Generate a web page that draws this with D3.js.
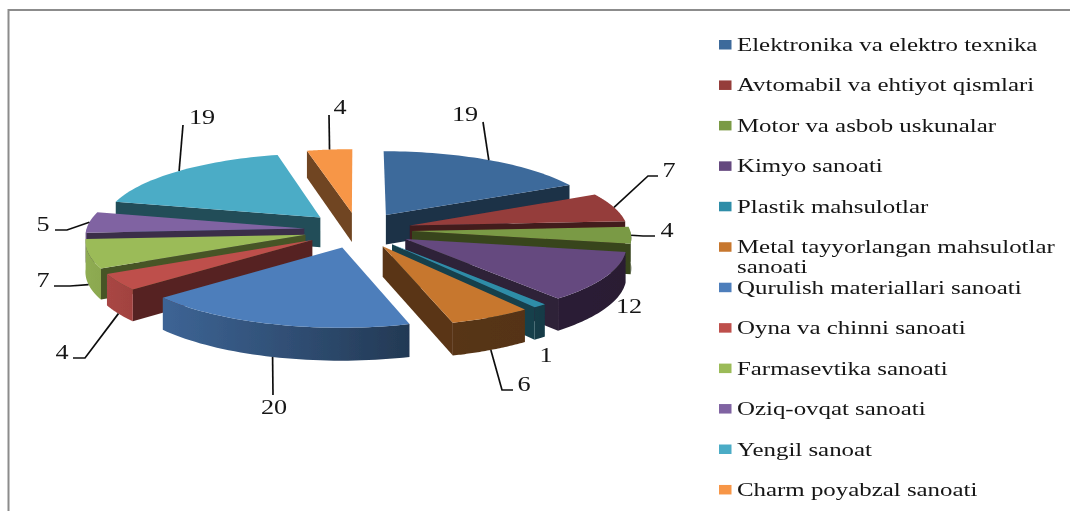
<!DOCTYPE html>
<html><head><meta charset="utf-8">
<script src="https://cdnjs.cloudflare.com/ajax/libs/d3/7.8.5/d3.min.js"></script>
<style>html,body{margin:0;padding:0;background:#fff}svg{display:block}text{font-family:"Liberation Serif",serif;fill:#141414}</style>
</head><body><div id="c"></div><script>
const categories=["Elektronika va elektro texnika","Avtomabil va ehtiyot qismlari","Motor va asbob uskunalar","Kimyo sanoati","Plastik mahsulotlar","Metal tayyorlangan mahsulotlar sanoati","Qurulish materiallari sanoati","Oyna va chinni sanoati","Farmasevtika sanoati","Oziq-ovqat sanoati","Yengil sanoat","Charm poyabzal sanoati"];
const values=[19,7,4,12,1,6,20,4,7,5,19,4];
const colors=["#3e6a9b","#953c3a","#7a9a45","#65497f","#2f8da8","#c7772f","#4d7ebb","#be4f4c","#9bbb59","#8064a2","#4bacc6","#f79646"];
// label layout: elbow and end of leader, label centre
const leaders=[[[483,122]],[[648,176],[658,176]],[[643,236],[655,236]],null,null,[[502,390],[513,390]],[[273,395]],[[85,358],[73,358]],[[70,286],[54,286]],[[67,230],[55,230]],[[183,125]],[[329,115]]];
const labelPos=[[465,114],[669,170],[667,230],[629,306],[546,355],[524,384],[274,407],[62,352],[43,280],[43,224],[202,117],[340,107]];
const W=1070,H=511,cx=358,cy=230,R=218,E=54,K=0.33,D=30,P=0.0011,SX=1.31;
const svg=d3.select("#c").append("svg").attr("width",W).attr("height",H);
const defs=svg.append("defs");
defs.append("filter").attr("id","soft").attr("x",0).attr("y",0).attr("width",1).attr("height",1).attr("filterUnits","userSpaceOnUse").attr("width",W).attr("height",H).append("feGaussianBlur").attr("stdDeviation",0.5);
// frame
svg.append("path").attr("d",`M8.5,${H}V10H${W}`).attr("fill","none").attr("stroke","#8c8c8c").attr("stroke-width",2);
const root=svg.append("g").attr("filter","url(#soft)");
const pie=d3.pie().sort(null).value(d=>d);
const arcs=pie(values);
function proj(a,r,mid,h){ // ground polar -> screen
  const X=E*Math.sin(mid)+r*Math.sin(a), Y=-K*(E*Math.cos(mid)+r*Math.cos(a));
  const s=1+P*Y;
  return [cx+X*s, cy+Y*s+(h?D*s:0)];
}
const shade=d3.scaleLinear().domain([100,160,410,640]).range([.9,.8,.45,.4]);
const dark=(c,f)=>{const q=d3.rgb(c);return d3.rgb(q.r*f,q.g*f,q.b*f).formatHex();};
const line=d3.line();
const N=40;
const order=d3.range(arcs.length).sort((a,b)=>{
  const m=d=>(d.startAngle+d.endAngle)/2;return -Math.cos(m(arcs[a]))+Math.cos(m(arcs[b]));});
order.forEach(i=>{
  const d=arcs[i],mid=(d.startAngle+d.endAngle)/2,g=root.append("g");
  const a0=d.startAngle,a1=d.endAngle,c=colors[i];
  const apex=proj(0,0,mid,false),apexB=proj(0,0,mid,true);
  const edge=(a)=>{const o=proj(a,R,mid,false),ob=proj(a,R,mid,true);
    g.append("path").attr("d",line([apex,o,ob,apexB])+"Z").attr("fill",dark(c,.45));};
  if(Math.cos(a0-Math.PI/2)<0) edge(a0);
  if(Math.cos(a1+Math.PI/2)<0) edge(a1);
  const w0=Math.max(a0,Math.PI/2),w1=Math.min(a1,1.5*Math.PI);
  if(w1>w0){
    const ts=d3.range(N+1).map(t=>w0+(w1-w0)*t/N);
    const top=ts.map(a=>proj(a,R,mid,false)),bot=ts.map(a=>proj(a,R,mid,true)).reverse();
    const xs=top.map(p=>p[0]),x0=d3.min(xs),x1=d3.max(xs);
    const gr=defs.append("linearGradient").attr("id","w"+i).attr("gradientUnits","userSpaceOnUse")
      .attr("x1",x0).attr("x2",x1).attr("y1",0).attr("y2",0);
    [0,.5,1].forEach(t=>{gr.append("stop").attr("offset",t).attr("stop-color",dark(c,shade(x0+(x1-x0)*t)));});
    g.append("path").attr("d",line(top.concat(bot))+"Z").attr("fill",`url(#w${i})`);
  }
  const ts=d3.range(N+1).map(t=>a0+(a1-a0)*t/N);
  g.append("path").attr("d",line([apex].concat(ts.map(a=>proj(a,R,mid,false))))+"Z").attr("fill",c);
});
// leaders and value labels
arcs.forEach((d,i)=>{
  const mid=(d.startAngle+d.endAngle)/2;
  if(leaders[i]){
    const front=Math.cos(mid)<0;
    const a=proj(mid,R,mid,front&&Math.abs(Math.sin(mid))<.98);
    root.append("path").attr("d",line([a].concat(leaders[i]))).attr("fill","none").attr("stroke","#111").attr("stroke-width",1.7);
  }
  root.append("text").attr("transform",`translate(${labelPos[i][0]},${labelPos[i][1]}) scale(${SX},1)`).attr("text-anchor","middle").attr("dominant-baseline","central")
    .attr("font-size",20).text(values[i]);
});
// legend
const ly=i=>45+40.45*i;
const lg=root.selectAll("g.l").data(categories).enter().append("g").attr("class","l");
lg.append("rect").attr("x",719).attr("y",(d,i)=>ly(i)-5).attr("width",12.5).attr("height",9.5).attr("fill",(d,i)=>colors[i]);
lg.each(function(d,i){
  const t=d3.select(this).append("text").attr("transform",`translate(737,${ly(i)+6}) scale(${SX},1)`).attr("font-size",19);
  if(d.length>34){const w=d.split(" ");t.append("tspan").attr("x",0).text(w.slice(0,-1).join(" "));t.append("tspan").attr("x",0).attr("dy",20).text(w[w.length-1]);}
  else t.text(d);
});
</script></body></html>
